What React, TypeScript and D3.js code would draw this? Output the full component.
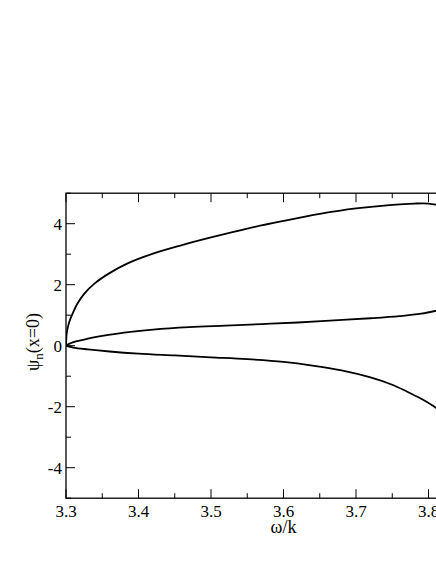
import React from "react";
import * as d3 from "d3";

const upperX = [3.3, 3.301, 3.303, 3.306, 3.31, 3.315, 3.325, 3.34, 3.36, 3.385, 3.42, 3.46, 3.5, 3.55, 3.6, 3.65, 3.7, 3.75, 3.78, 3.8, 3.815];
const upperY = [0, 0.4, 0.65, 0.88, 1.1, 1.35, 1.7, 2.05, 2.38, 2.7, 3.02, 3.3, 3.55, 3.84, 4.09, 4.32, 4.5, 4.62, 4.66, 4.66, 4.6];

const middleX = [3.3, 3.305, 3.315, 3.33, 3.35, 3.38, 3.42, 3.47, 3.52, 3.57, 3.62, 3.67, 3.72, 3.76, 3.79, 3.815];
const middleY = [0, 0.07, 0.15, 0.23, 0.32, 0.43, 0.53, 0.61, 0.66, 0.71, 0.76, 0.83, 0.9, 0.97, 1.05, 1.17];

const lowerX = [3.3, 3.31, 3.33, 3.36, 3.4, 3.45, 3.5, 3.55, 3.6, 3.64, 3.68, 3.72, 3.75, 3.77, 3.79, 3.805, 3.815];
const lowerY = [0, -0.06, -0.12, -0.19, -0.26, -0.32, -0.38, -0.44, -0.53, -0.65, -0.81, -1.04, -1.28, -1.5, -1.74, -1.95, -2.12];

const xMajor = [3.3, 3.4, 3.5, 3.6, 3.7, 3.8, 3.9];
const xMinor = [3.35, 3.45, 3.55, 3.65, 3.75, 3.85];
const yMajor = [-4, -2, 0, 2, 4];
const yMinor = [-5, -3, -1, 1, 3, 5];

const series = [
  { name: "upper", xs: upperX, ys: upperY },
  { name: "middle", xs: middleX, ys: middleY },
  { name: "lower", xs: lowerX, ys: lowerY },
];

export default function App() {
  const W = 436;
  const H = 564;
  const left = 66;
  const top = 193.2;
  const bottom = 498.2;
  const right = left + 725 * 0.6;
  const x = d3.scaleLinear().domain([3.3, 3.9]).range([left, right]);
  const y = d3.scaleLinear().domain([-5, 5]).range([bottom, top]);
  const line = d3
    .line<[number, number]>()
    .x((d) => x(d[0]))
    .y((d) => y(d[1]))
    .curve(d3.curveCatmullRom.alpha(0.5));
  const fam = "'Liberation Serif', 'Times New Roman', Times, serif";
  const tickStyle = { fontFamily: fam, fontSize: "17px" };
  const labelStyle = { fontFamily: fam, fontSize: "18px" };
  const MJ = 9;
  const MN = 5;
  return (
    <svg
      width={W}
      height={H}
      style={{ position: "absolute", left: 0, top: 0, background: "#fff" }}
    >
      <defs>
        <clipPath id="plotclip">
          <rect x={left} y={top} width={right - left} height={bottom - top} />
        </clipPath>
      </defs>
      <g clipPath="url(#plotclip)">
        {series.map((s) => (
          <path
            key={s.name}
            d={line(s.xs.map((v, i) => [v, s.ys[i]] as [number, number])) || ""}
            fill="none"
            stroke="#000"
            strokeWidth={1.8}
          />
        ))}
      </g>
      <rect
        x={left}
        y={top}
        width={right - left}
        height={bottom - top}
        fill="none"
        stroke="#000"
        strokeWidth={1.3}
      />
      {xMajor.map((v) => (
        <g key={"xM" + v}>
          <line x1={x(v)} x2={x(v)} y1={bottom} y2={bottom - MJ} stroke="#000" strokeWidth={1} />
          <line x1={x(v)} x2={x(v)} y1={top} y2={top + MJ} stroke="#000" strokeWidth={1} />
          <text x={x(v)} y={bottom + 19} textAnchor="middle" style={tickStyle}>
            {v.toFixed(1)}
          </text>
        </g>
      ))}
      {xMinor.map((v) => (
        <g key={"xm" + v}>
          <line x1={x(v)} x2={x(v)} y1={bottom} y2={bottom - MN} stroke="#000" strokeWidth={1} />
          <line x1={x(v)} x2={x(v)} y1={top} y2={top + MN} stroke="#000" strokeWidth={1} />
        </g>
      ))}
      {yMajor.map((v) => (
        <g key={"yM" + v}>
          <line x1={left} x2={left + MJ} y1={y(v)} y2={y(v)} stroke="#000" strokeWidth={1} />
          <line x1={right} x2={right - MJ} y1={y(v)} y2={y(v)} stroke="#000" strokeWidth={1} />
          <text x={left - 4} y={y(v) + 6} textAnchor="end" style={tickStyle}>
            {String(v)}
          </text>
        </g>
      ))}
      {yMinor.map((v) => (
        <g key={"ym" + v}>
          <line x1={left} x2={left + MN} y1={y(v)} y2={y(v)} stroke="#000" strokeWidth={1} />
          <line x1={right} x2={right - MN} y1={y(v)} y2={y(v)} stroke="#000" strokeWidth={1} />
        </g>
      ))}
      <text x={x(3.6)} y={bottom + 35} textAnchor="middle" style={labelStyle}>
        ω/k
      </text>
      <text
        transform={`translate(39, ${y(0.12)}) rotate(-90)`}
        textAnchor="middle"
        style={labelStyle}
      >
        ψ
        <tspan style={{ fontSize: "13px" }} dy={4}>n</tspan>
        <tspan dy={-4}>(x=0)</tspan>
      </text>
    </svg>
  );
}
